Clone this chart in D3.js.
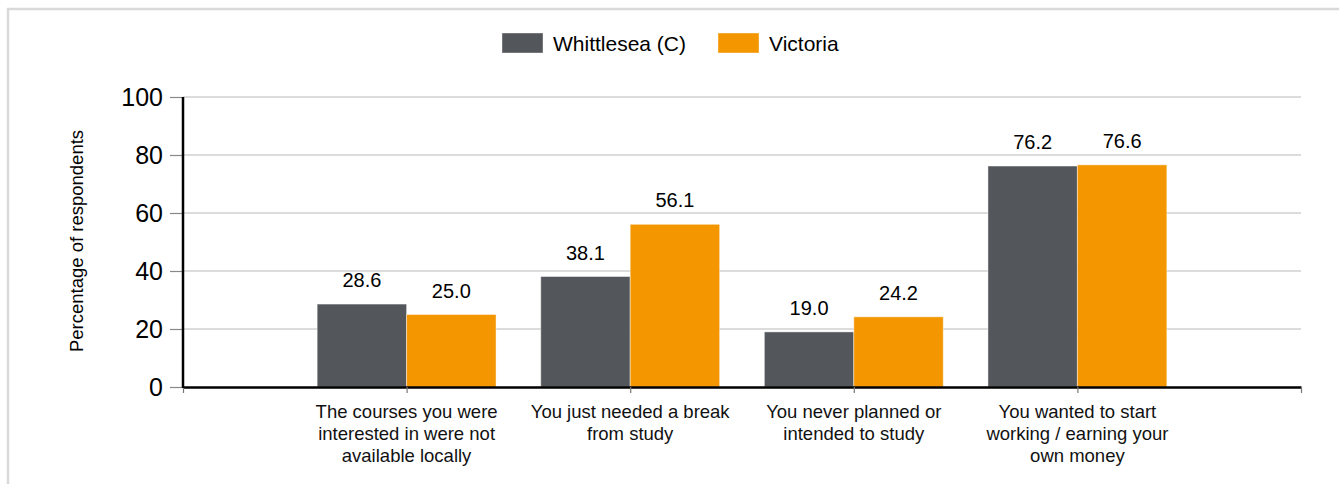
<!DOCTYPE html>
<html>
<head>
<meta charset="utf-8">
<script src="https://cdn.jsdelivr.net/npm/d3@7"></script>
<style>
  html, body { margin: 0; padding: 0; background: #fff; }
  svg { display: block; font-family: "Liberation Sans", Arial, sans-serif; }
</style>
</head>
<body>
<svg id="chart" width="1339" height="484"></svg>
<script>
const categories = [
  "The courses you were interested in were not available locally",
  "You just needed a break from study",
  "You never planned or intended to study",
  "You wanted to start working / earning your own money"
];
const categoryLines = [
  ["The courses you were", "interested in were not", "available locally"],
  ["You just needed a break", "from study"],
  ["You never planned or", "intended to study"],
  ["You wanted to start", "working / earning your", "own money"]
];
const seriesNames = ["Whittlesea (C)", "Victoria"];
const whittlesea = [28.6, 38.1, 19.0, 76.2];
const victoria = [25.0, 56.1, 24.2, 76.6];
const yTicks = [0, 20, 40, 60, 80, 100];
const colors = ["#53565a", "#f39600"];

(function () {
const svg = d3.select("#chart");

// frame
svg.append("path")
  .attr("d", "M8,484 L8,9 L1339,9")
  .attr("fill", "none").attr("stroke", "#d9d9d9").attr("stroke-width", 2.5);

const pLeft = 183, pRight = 1301, pTop = 97, pBottom = 387;

const x = d3.scaleLinear().domain([0, categories.length + 1]).range([pLeft, pRight]);
const y = d3.scaleLinear().domain([0, 100]).range([pBottom, pTop]);
const step = x(1) - x(0);
const barW = step * 0.4;

// gridlines
svg.append("g").selectAll("line").data(yTicks.filter(d => d > 0)).join("line")
  .attr("x1", pLeft).attr("x2", pRight)
  .attr("y1", d => y(d)).attr("y2", d => y(d))
  .attr("stroke", "#dcdcdc").attr("stroke-width", 2);

// y axis
const yAxis = svg.append("g").attr("transform", `translate(${pLeft},0)`)
  .call(d3.axisLeft(y).tickValues(yTicks).tickSize(13).tickPadding(7).tickFormat(d3.format("d")));
yAxis.select(".domain").remove();
yAxis.selectAll(".tick line").attr("stroke", "#888").attr("stroke-width", 1.2);
yAxis.selectAll(".tick text").attr("font-size", 25).attr("fill", "#000")
  .attr("font-family", "Liberation Sans, Arial, sans-serif");

// y title
svg.append("text")
  .attr("transform", `translate(83,${(pTop + pBottom) / 2 - 1}) rotate(-90)`)
  .attr("text-anchor", "middle")
  .attr("font-size", 18.5).attr("fill", "#000")
  .text("Percentage of respondents");

// bars
const series = [whittlesea, victoria];
series.forEach((vals, si) => {
  const g = svg.append("g");
  g.selectAll("rect").data(vals).join("rect")
    .attr("x", (d, i) => x(i + 1) - barW + si * barW)
    .attr("width", barW)
    .attr("y", d => y(d))
    .attr("height", d => y(0) - y(d))
    .attr("fill", colors[si])
    .attr("stroke", "rgba(255,255,255,0.45)").attr("stroke-width", 1);
  g.selectAll("text").data(vals).join("text")
    .attr("x", (d, i) => x(i + 1) - barW / 2 + si * barW)
    .attr("y", d => y(d) - 17)
    .attr("text-anchor", "middle")
    .attr("font-size", 20).attr("fill", "#000")
    .text(d => d.toFixed(1));
});

// x axis
const xTickVals = d3.range(0, categories.length + 2);
const xAxis = svg.append("g").attr("transform", `translate(0,${pBottom})`)
  .call(d3.axisBottom(x).tickValues(xTickVals).tickSize(6).tickSizeOuter(0).tickFormat(""));
xAxis.select(".domain").attr("stroke", "#000").attr("stroke-width", 2.5);
xAxis.selectAll(".tick line").attr("stroke", "#777").attr("stroke-width", 1.2);

// y axis line
svg.append("line").attr("x1", pLeft).attr("x2", pLeft).attr("y1", pTop).attr("y2", pBottom + 1)
  .attr("stroke", "#000").attr("stroke-width", 2.5);

// category labels
const cl = svg.append("g");
categoryLines.forEach((lines, i) => {
  const t = cl.append("text")
    .attr("x", x(i + 1)).attr("y", 418)
    .attr("text-anchor", "middle").attr("font-size", 18.5).attr("fill", "#111");
  lines.forEach((ln, j) => {
    t.append("tspan").attr("x", x(i + 1)).attr("dy", j === 0 ? 0 : 22).text(ln);
  });
});

// legend
const legend = svg.append("g");
const legX = [502, 718];
seriesNames.forEach((name, i) => {
  legend.append("rect").attr("x", legX[i]).attr("y", 33).attr("width", 41).attr("height", 20)
    .attr("fill", colors[i]).attr("stroke", "rgba(255,255,255,0.4)");
  legend.append("text").attr("x", legX[i] + 51).attr("y", 51)
    .attr("font-size", 21).attr("fill", "#000").text(name);
});
})();
</script>
</body>
</html>
